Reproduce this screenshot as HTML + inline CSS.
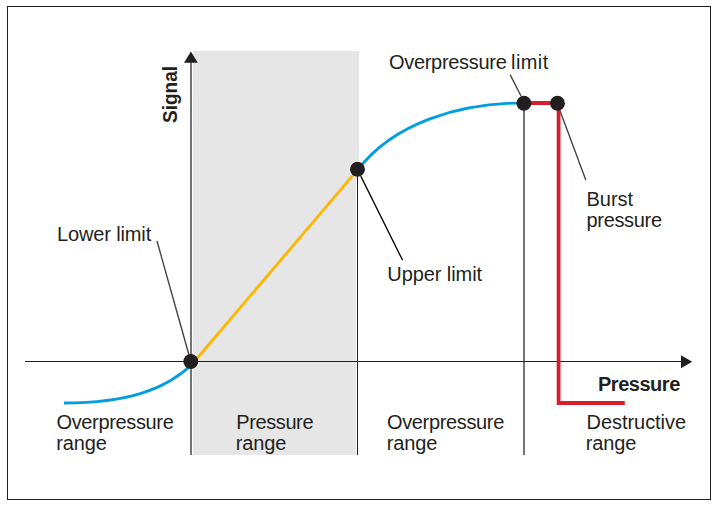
<!DOCTYPE html>
<html>
<head>
<meta charset="utf-8">
<style>
html,body{margin:0;padding:0;background:#fff;width:720px;height:506px;overflow:hidden;}
svg{display:block;}
text{font-family:"Liberation Sans",sans-serif;font-size:20px;fill:#231f20;}
.b{font-weight:bold;}
</style>
</head>
<body>
<svg width="720" height="506" viewBox="0 0 720 506">
  <!-- frame -->
  <rect x="7.5" y="6.5" width="703" height="493" fill="none" stroke="#231f20" stroke-width="1"/>
  <!-- grey pressure range -->
  <rect x="193" y="51" width="163" height="404" fill="#e6e6e6"/>
  <rect x="356" y="51" width="3" height="118" fill="#e6e6e6"/>
  <!-- halos -->
  <g fill="#fff">
    <circle cx="190.85" cy="361.45" r="8.3"/>
    <circle cx="357.45" cy="169.2" r="8.3"/>
    <circle cx="523.9" cy="103.3" r="8.3"/>
    <circle cx="557.45" cy="103.3" r="8.3"/>
  </g>
  <!-- vertical lines -->
  <rect x="190" y="62" width="2" height="393" fill="#747474"/>
  <line x1="357.5" y1="169" x2="357.5" y2="455" stroke="#fff" stroke-width="3"/>
  <line x1="357.5" y1="169" x2="357.5" y2="455" stroke="#231f20" stroke-width="1"/>
  <rect x="523" y="103" width="2" height="352" fill="#747474"/>
  <!-- horizontal axis -->
  <line x1="25" y1="361.5" x2="682" y2="361.5" stroke="#231f20" stroke-width="1"/>
  <polygon points="681,355.2 692.2,361.7 681,368.3" fill="#231f20"/>
  <!-- vertical axis arrow -->
  <polygon points="190.9,51.4 197.8,62.8 184,62.8" fill="#231f20"/>
  <!-- curves -->
  <path d="M64,403 C126.8,403 166,390 193.4,363" fill="none" stroke="#009ee0" stroke-width="2.8"/>
  <line x1="194.4" y1="361.5" x2="358.2" y2="169.2" stroke="#feb600" stroke-width="2.8"/>
  <path d="M357.8,169.8 C393.5,123.2 458.9,103 524,102.9" fill="none" stroke="#009ee0" stroke-width="2.8"/>
  <!-- red -->
  <line x1="524" y1="103" x2="557.5" y2="103" stroke="#d81e2c" stroke-width="3.8"/>
  <polyline points="558.6,103 558.6,403 624.8,403" fill="none" stroke="#d81e2c" stroke-width="3.8" stroke-linejoin="miter"/>
  <!-- leader lines -->
  <line x1="157" y1="241" x2="189" y2="355" stroke="#454545" stroke-width="1.4"/>
  <line x1="360.8" y1="176.1" x2="402.6" y2="260.3" stroke="#000" stroke-width="1.3"/>
  <line x1="510.1" y1="74.6" x2="521" y2="96" stroke="#454545" stroke-width="1.4"/>
  <line x1="560" y1="110.7" x2="585.8" y2="180" stroke="#454545" stroke-width="1.4"/>
  <!-- dots -->
  <g fill="#231f20">
    <circle cx="190.85" cy="361.45" r="7.5"/>
    <circle cx="357.45" cy="169.2" r="7.5"/>
    <circle cx="523.9" cy="103.3" r="7.5"/>
    <circle cx="557.45" cy="103.3" r="7.5"/>
  </g>
  <!-- labels -->
  <text class="b" transform="translate(177.2,123) rotate(-90)" textLength="57" lengthAdjust="spacingAndGlyphs" style="font-size:20.5px">Signal</text>
  <text x="389" y="69" textLength="117.8">Overpressure</text>
  <text x="511" y="69" textLength="37.3">limit</text>
  <text x="586.5" y="206">Burst</text>
  <text x="586.5" y="227" textLength="75.5">pressure</text>
  <text x="57" y="241" textLength="94.2">Lower limit</text>
  <text x="387.3" y="281" textLength="94.8">Upper limit</text>
  <text class="b" x="598" y="391" textLength="82.3">Pressure</text>
  <text x="56.5" y="429" textLength="117.3">Overpressure</text>
  <text x="56.3" y="450" textLength="50.6">range</text>
  <text x="236.3" y="429" textLength="77.2">Pressure</text>
  <text x="235.8" y="450" textLength="50.6">range</text>
  <text x="387" y="429" textLength="117.3">Overpressure</text>
  <text x="386.8" y="450" textLength="50.6">range</text>
  <text x="586.5" y="429" textLength="99.6">Destructive</text>
  <text x="585.8" y="450" textLength="50.6">range</text>
</svg>
</body>
</html>
